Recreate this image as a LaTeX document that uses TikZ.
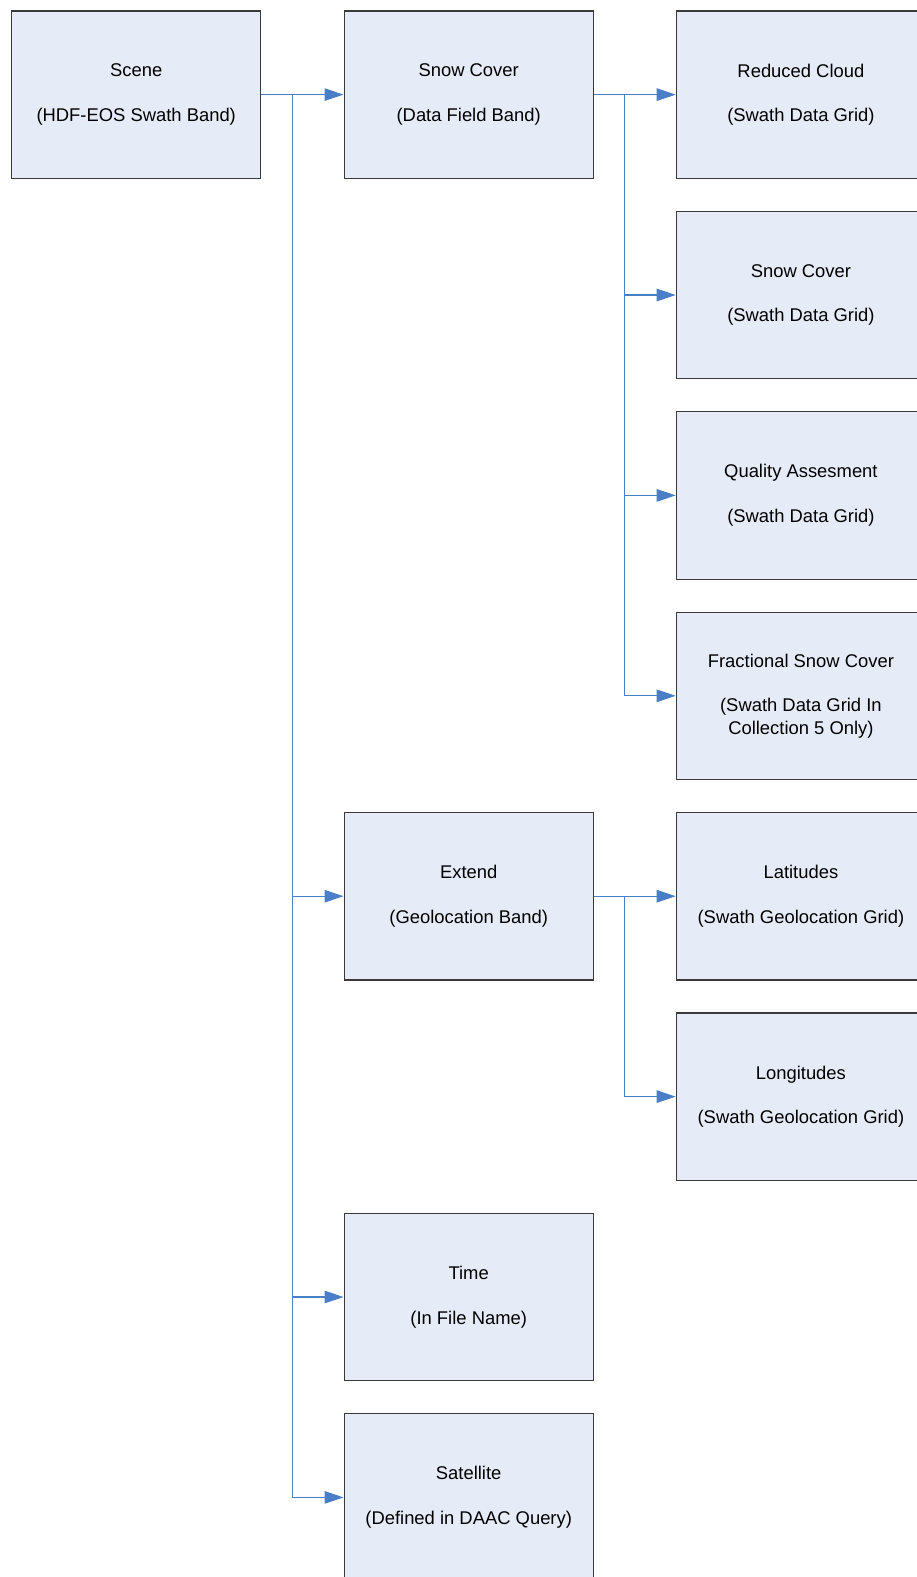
\documentclass[tikz,border=0pt]{standalone}
\usepackage{fontspec}
\setmainfont{Liberation Sans}
\usetikzlibrary{arrows.meta}
\definecolor{boxfill}{HTML}{E6ECF7}
\definecolor{boxline}{HTML}{3A3A3A}
\definecolor{linkblue}{HTML}{4A7EC7}
\tikzset{
  databox/.style={draw=boxline, line width=1.2pt, fill=boxfill, anchor=north west,
    minimum width=249.2pt, minimum height=167.4pt, inner sep=0pt,
    align=center, font=\fontsize{18.4}{22.3}\selectfont},
  link/.style={draw=linkblue, line width=1.1pt,
    -{Triangle[length=19pt,width=12.5pt]}},
}
\newcommand{\boxtext}[2]{#1\\[22.3pt]#2}
\begin{document}
\begin{tikzpicture}[x=1pt,y=-1pt]
\useasboundingbox (0,0) rectangle (917,1577);
\clip (0,0) rectangle (917,1577);
% left column
\node[databox] (scene) at (11,10.3) {\boxtext{Scene}{(HDF-EOS Swath Band)}};
% middle column
\node[databox] (snow) at (343.5,10.3) {\boxtext{Snow Cover}{(Data Field Band)}};
\node[databox] (extend) at (343.5,811.9) {\boxtext{Extend}{(Geolocation Band)}};
\node[databox] (time) at (343.5,1212.7) {\boxtext{Time}{(In File Name)}};
\node[databox] (sat) at (343.5,1413.1) {\boxtext{Satellite}{(Defined in DAAC Query)}};
% right column
\node[databox] (cloud) at (675.7,10.3) {\boxtext{Reduced Cloud}{(Swath Data Grid)}};
\node[databox] (snowgrid) at (675.7,210.7) {\boxtext{Snow Cover}{(Swath Data Grid)}};
\node[databox] (qa) at (675.7,411.1) {\boxtext{Quality Assesment}{(Swath Data Grid)}};
\node[databox] (frac) at (675.7,611.5) {Fractional Snow Cover\\[22.3pt](Swath Data Grid In\\Collection 5 Only)};
\node[databox] (lat) at (675.7,811.9) {\boxtext{Latitudes}{(Swath Geolocation Grid)}};
\node[databox] (lon) at (675.7,1012.3) {\boxtext{Longitudes}{(Swath Geolocation Grid)}};
% branch points
\coordinate (t0) at ([xshift=31.3pt]scene.east);
\coordinate (t1) at ([xshift=31pt]snow.east);
\coordinate (t2) at ([xshift=31pt]extend.east);
% connectors
\draw[link] (scene.east) -- (snow.west);
\draw[link] (scene.east) -- (t0) |- (extend.west);
\draw[link] (scene.east) -- (t0) |- (time.west);
\draw[link] (scene.east) -- (t0) |- (sat.west);
\draw[link] (snow.east) -- (cloud.west);
\draw[link] (snow.east) -- (t1) |- (snowgrid.west);
\draw[link] (snow.east) -- (t1) |- (qa.west);
\draw[link] (snow.east) -- (t1) |- (frac.west);
\draw[link] (extend.east) -- (lat.west);
\draw[link] (extend.east) -- (t2) |- (lon.west);
\end{tikzpicture}
\end{document}
